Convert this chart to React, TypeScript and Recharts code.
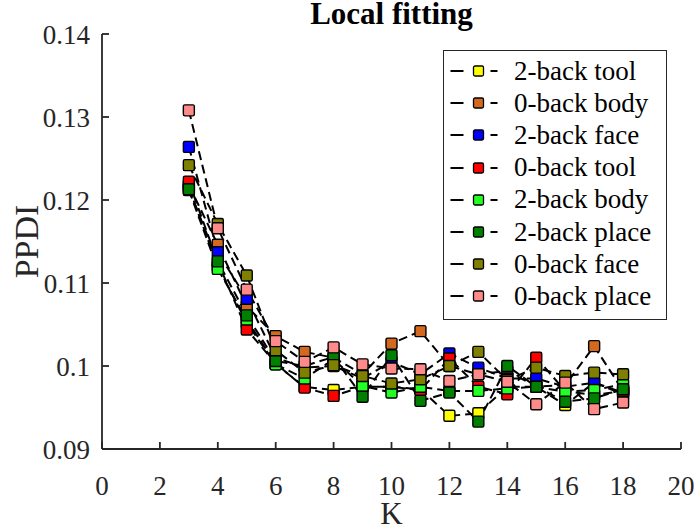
import React from 'react';
import { LineChart, Line, XAxis, YAxis, Legend } from 'recharts';

const kValues = [3, 4, 5, 6, 7, 8, 9, 10, 11, 12, 13, 14, 15, 16, 17, 18];

const seriesNames = [
  '2-back tool',
  '0-back body',
  '2-back face',
  '0-back tool',
  '2-back body',
  '2-back place',
  '0-back face',
  '0-back place',
];

const seriesColors = ['#FFFF00', '#D2691E', '#0000FF', '#FF0000', '#22FF22', '#007F00', '#808000', '#FF8A8A'];

const twoBackTool = [0.1215, 0.112, 0.1052, 0.1002, 0.0975, 0.0971, 0.0975, 0.0975, 0.0972, 0.094, 0.0943, 0.0975, 0.0975, 0.0953, 0.098, 0.0968];
const zeroBackBody = [0.1218, 0.1146, 0.1072, 0.1036, 0.1017, 0.101, 0.099, 0.1027, 0.1042, 0.1, 0.099, 0.0994, 0.0975, 0.0977, 0.1024, 0.097];
const twoBackFace = [0.1264, 0.1137, 0.1081, 0.101, 0.0998, 0.1, 0.0985, 0.1005, 0.099, 0.1015, 0.0998, 0.0985, 0.0985, 0.0975, 0.098, 0.0966];
const zeroBackTool = [0.1222, 0.1125, 0.1044, 0.1003, 0.0974, 0.0964, 0.0975, 0.0975, 0.0971, 0.1009, 0.0975, 0.0966, 0.101, 0.097, 0.0965, 0.097];
const twoBackBody = [0.1212, 0.1117, 0.1056, 0.1002, 0.0985, 0.1008, 0.0976, 0.0968, 0.0975, 0.097, 0.097, 0.0973, 0.0975, 0.0969, 0.0971, 0.0978];
const twoBackPlace = [0.1213, 0.1126, 0.1061, 0.1006, 0.1, 0.1011, 0.0963, 0.1013, 0.0958, 0.0968, 0.0933, 0.1, 0.0975, 0.0957, 0.0961, 0.0972];
const zeroBackFace = [0.1242, 0.1171, 0.1109, 0.1019, 0.0992, 0.1001, 0.0988, 0.0979, 0.0984, 0.1, 0.1017, 0.0983, 0.0998, 0.0988, 0.0992, 0.099];
const zeroBackPlace = [0.1308, 0.1166, 0.1092, 0.103, 0.1005, 0.10225, 0.1002, 0.0997, 0.0996, 0.0982, 0.099, 0.0981, 0.0954, 0.098, 0.0948, 0.0956];

const seriesValues = [twoBackTool, zeroBackBody, twoBackFace, zeroBackTool, twoBackBody, twoBackPlace, zeroBackFace, zeroBackPlace];

const xTicks = [0, 2, 4, 6, 8, 10, 12, 14, 16, 18, 20];
const yTicks = [0.09, 0.1, 0.11, 0.12, 0.13, 0.14];

const data = kValues.map((k, i) => {
  const row: Record<string, number> = { K: k };
  seriesValues.forEach((vals, s) => {
    row['s' + s] = vals[i];
  });
  return row;
});

const FONT = '"Liberation Serif", "Times New Roman", serif';
const AXIS = '#262626';

const makeDot = (color: string) => (props: any) => {
  const { cx, cy, index } = props;
  if (cx == null || cy == null) return <g key={'d' + index} />;
  return (
    <rect
      key={'d' + index}
      x={cx - 5.5}
      y={cy - 5.5}
      width={11}
      height={11}
      rx={1.5}
      fill={color}
      stroke="#000"
      strokeWidth={1.4}
    />
  );
};

const LegendBox = () => (
  <div
    style={{
      width: 224,
      height: 270,
      border: `1.5px solid ${AXIS}`,
      background: '#fff',
      boxSizing: 'border-box',
      paddingTop: 4,
      fontFamily: FONT,
      fontSize: 27,
      color: '#000',
    }}
  >
    {seriesNames.map((n, i) => (
      <div key={n} style={{ height: 32.2, display: 'flex', alignItems: 'center', whiteSpace: 'nowrap' }}>
        <svg width={70} height={20} style={{ flex: 'none' }}>
          <line x1={6.5} y1={10} x2={19.5} y2={10} stroke="#000" strokeWidth={2} />
          <line x1={46.5} y1={10} x2={53.5} y2={10} stroke="#000" strokeWidth={2} />
          <rect x={29.5} y={5} width={10} height={10} rx={1.5} fill={seriesColors[i]} stroke="#000" strokeWidth={1.3} />
        </svg>
        <span style={{ lineHeight: '27px' }}>{n}</span>
      </div>
    ))}
  </div>
);

const fmtY = (v: number) => String(+v.toFixed(2));

export default function App() {
  return (
    <div style={{ position: 'absolute', left: 0, top: 0, width: 696, height: 528, background: '#fff', overflow: 'hidden' }}>
      <div
        style={{
          position: 'absolute',
          left: 102,
          width: 579,
          top: 0,
          textAlign: 'center',
          fontFamily: FONT,
          fontWeight: 'bold',
          fontSize: 31,
          lineHeight: '28px',
          color: '#000',
          zIndex: 2,
        }}
      >
        Local fitting
      </div>
      <LineChart width={696} height={528} data={data} margin={{ top: 34, right: 15, bottom: 0, left: 0 }}>
        <XAxis
          dataKey="K"
          type="number"
          domain={[0, 20]}
          ticks={xTicks}
          allowDataOverflow
          height={79}
          tickSize={-7}
          tickMargin={34}
          stroke={AXIS}
          strokeWidth={1.8}
          tick={{ fontFamily: FONT, fontSize: 27, fill: AXIS }}
          label={{ value: 'K', position: 'insideBottom', offset: 4, style: { fontFamily: FONT, fontSize: 31, fill: AXIS } }}
        />
        <XAxis
          xAxisId="top"
          orientation="top"
          type="number"
          domain={[0, 20]}
          ticks={xTicks}
          height={0}
          tickSize={-7}
          tickFormatter={() => ''}
          stroke={AXIS}
          strokeWidth={1.8}
        />
        <YAxis
          type="number"
          domain={[0.09, 0.14]}
          ticks={yTicks}
          allowDataOverflow
          width={102}
          tickSize={-7}
          tickMargin={19}
          tickFormatter={fmtY}
          stroke={AXIS}
          strokeWidth={1.8}
          tick={{ fontFamily: FONT, fontSize: 27, fill: AXIS }}
          label={{ value: 'PPDI', angle: -90, position: 'insideLeft', offset: 26, style: { fontFamily: FONT, fontSize: 34, fill: AXIS, textAnchor: 'middle' } }}
        />
        <YAxis
          yAxisId="right"
          orientation="right"
          type="number"
          domain={[0.09, 0.14]}
          ticks={yTicks}
          width={0}
          tickSize={-7}
          tickFormatter={() => ''}
          stroke={AXIS}
          strokeWidth={1.8}
        />
        <Legend
          layout="vertical"
          align="center"
          verticalAlign="middle"
          content={<LegendBox />}
          wrapperStyle={{ position: 'absolute', left: 443, top: 50, right: 'auto', bottom: 'auto', width: 224, height: 270 }}
        />
        {seriesNames.map((n, s) => (
          <Line
            key={n}
            name={n}
            dataKey={'s' + s}
            type="linear"
            stroke="#000"
            strokeWidth={2}
            strokeDasharray="9 5"
            dot={makeDot(seriesColors[s])}
            activeDot={false}
            isAnimationActive={false}
          />
        ))}
      </LineChart>
    </div>
  );
}
